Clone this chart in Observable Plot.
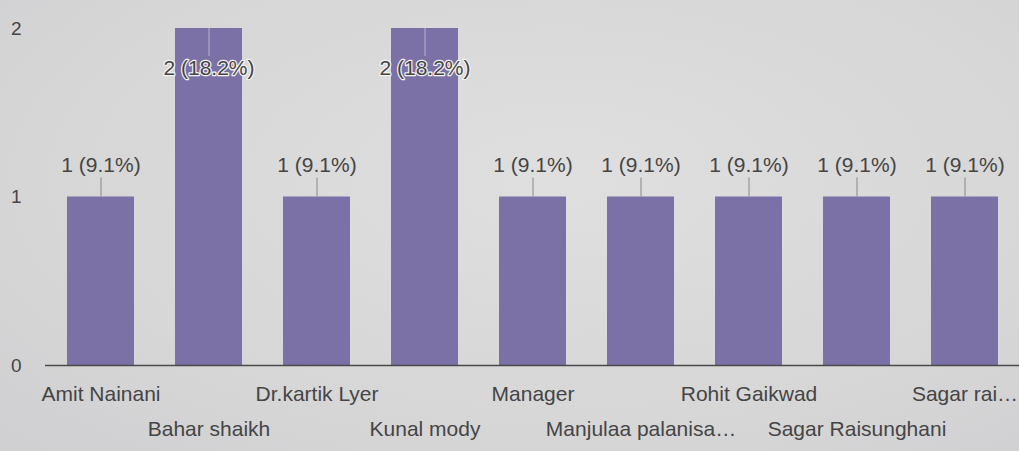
<!DOCTYPE html>
<html>
<head>
<meta charset="utf-8">
<script src="https://cdn.jsdelivr.net/npm/d3@7"></script>
<script src="https://cdn.jsdelivr.net/npm/@observablehq/plot@0.6"></script>
<style>
  html, body { margin: 0; padding: 0; }
  body {
    width: 1019px; height: 451px; overflow: hidden;
    background: radial-gradient(ellipse at 55% 40%, #e0dfdf 0%, #d8d7d8 60%, #cfcfd1 100%);
    font-family: "Liberation Sans", Arial, sans-serif;
  }
</style>
</head>
<body>
<div id="chart"></div>
<script>
const names = ["Amit Nainani", "Bahar shaikh", "Dr.kartik Lyer", "Kunal mody", "Manager",
               "Manjulaa palanisa…", "Rohit Gaikwad", "Sagar Raisunghani", "Sagar rai…"];
const counts = [1, 2, 1, 2, 1, 1, 1, 1, 1];
const valueLabels = ["1 (9.1%)", "2 (18.2%)", "1 (9.1%)", "2 (18.2%)", "1 (9.1%)",
                     "1 (9.1%)", "1 (9.1%)", "1 (9.1%)", "1 (9.1%)"];
const yTicks = [0, 1, 2];

const data = names.map((n, i) => ({name: n, value: counts[i], label: valueLabels[i], row: i % 2}));
const maxV = d3.max(counts);
const outside = data.filter(d => d.value < maxV);
const inside = data.filter(d => d.value === maxV);

const barColor = "#7b71a6";
const textColor = "#454545";

const chart = Plot.plot({
  width: 1019,
  height: 451,
  marginTop: 28,
  marginBottom: 86,
  marginLeft: 45,
  marginRight: 0,
  style: {background: "transparent", fontFamily: "'Liberation Sans', Arial, sans-serif", color: textColor},
  x: {domain: names, paddingInner: 0.38, paddingOuter: 0.19, axis: null},
  y: {domain: [0, 2], ticks: yTicks, label: null},
  marks: [
    Plot.axisY({ticks: yTicks, tickSize: 0, tickPadding: 24, fontSize: 19, label: null, fill: textColor, tickFormat: d3.format("d")}),
    Plot.barY(data, {x: "name", y: "value", fill: barColor}),
    Plot.ruleY([0], {stroke: "#4a4a4a", strokeWidth: 1.5}),
    // leader lines for labels above bars
    Plot.ruleX(outside, {x: "name", y1: "value", y2: "value", insetTop: -19, stroke: "#888", strokeWidth: 1}),
    // leader lines inside tall bars
    Plot.ruleX(inside, {x: "name", y1: "value", y2: "value", insetBottom: -28, stroke: "#b9b3cf", strokeWidth: 1}),
    Plot.text(outside, {x: "name", y: "value", text: "label", dy: -32, fontSize: 21, fill: textColor}),
    Plot.text(inside, {x: "name", y: "value", text: "label", dy: 40, fontSize: 21, fill: textColor, stroke: "#f2f2f2", strokeWidth: 2.5}),
    // category labels, alternating rows
    Plot.text(data.filter(d => d.row === 0), {x: "name", y: 0, text: "name", dy: 29, fontSize: 21, fill: textColor}),
    Plot.text(data.filter(d => d.row === 1), {x: "name", y: 0, text: "name", dy: 64, fontSize: 21, fill: textColor})
  ]
});
document.getElementById("chart").append(chart);
</script>
</body>
</html>
